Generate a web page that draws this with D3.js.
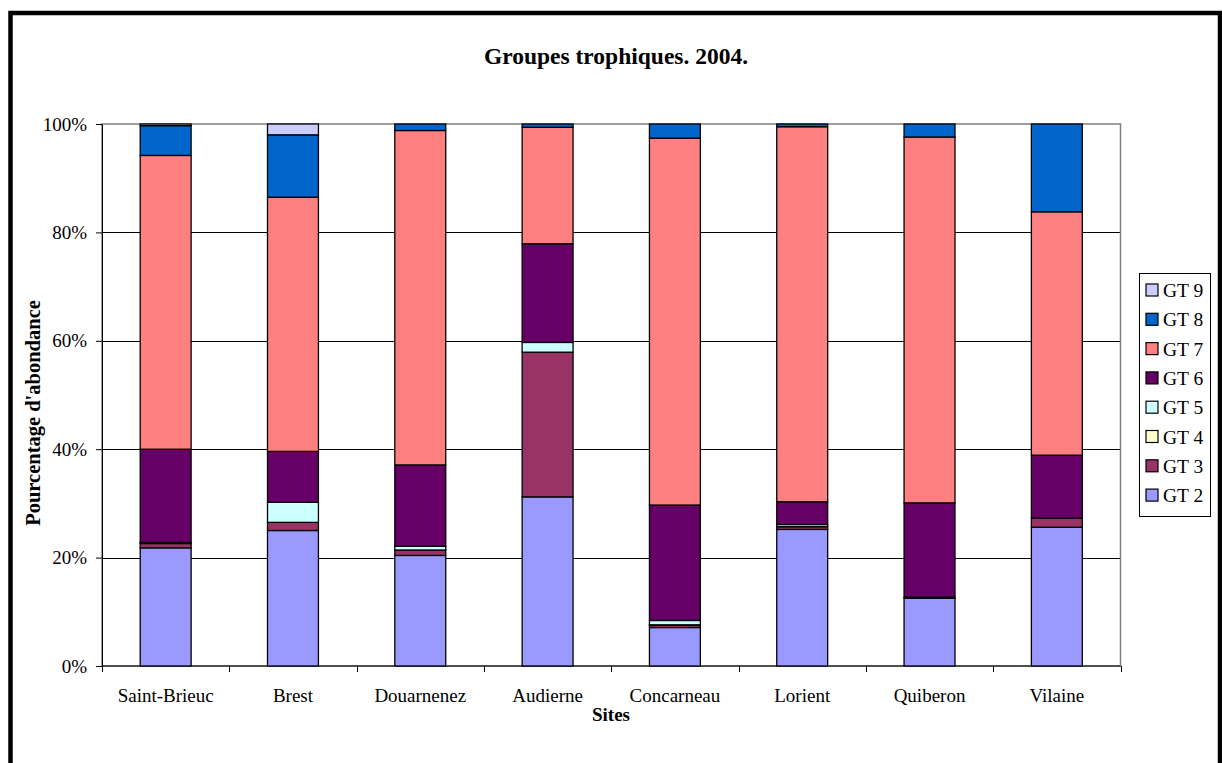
<!DOCTYPE html>
<html lang="fr">
<head>
<meta charset="UTF-8"/>
<title>Groupes trophiques. 2004.</title>
<script src="https://d3js.org/d3.v7.min.js"></script>
<style>
    body { margin: 0; background: #fff; }
    text { font-family: "Liberation Serif", "Times New Roman", serif; fill: #000; }
</style>
</head>
<body>
<script>
    // sites along the x axis
    var sites = ["Saint-Brieuc", "Brest", "Douarnenez", "Audierne", "Concarneau", "Lorient", "Quiberon", "Vilaine"];

    // percentage of abundance per trophic group
    var gt2 = [21.8, 25.0, 20.4, 31.2, 7.1, 25.2, 12.5, 25.6];
    var gt3 = [0.8, 1.5, 1.0, 26.7, 0.4, 0.5, 0.2, 1.7];
    var gt4 = [0, 0, 0, 0, 0.1, 0, 0, 0];
    var gt5 = [0.2, 3.7, 0.7, 1.8, 0.8, 0.4, 0, 0];
    var gt6 = [17.2, 9.4, 15.0, 18.2, 21.3, 4.2, 17.4, 11.6];
    var gt7 = [54.2, 46.9, 61.7, 21.5, 67.7, 69.2, 67.5, 44.9];
    var gt8 = [5.5, 11.5, 1.2, 0.6, 2.6, 0.5, 2.4, 16.2];
    var gt9 = [0.3, 2.0, 0, 0, 0, 0, 0, 0];

    var groups = ["GT 2", "GT 3", "GT 4", "GT 5", "GT 6", "GT 7", "GT 8", "GT 9"];
    var colors = ["#9999FF", "#993366", "#FFFFCC", "#CCFFFF", "#660066", "#FF8080", "#0066CC", "#CCCCFF"];
    var yTicks = [0, 0.2, 0.4, 0.6, 0.8, 1];

    var w = 1222, h = 763;
    // plot area edges (don't use "top" as a global name, it clashes with window.top)
    var pLeft = 102, pRight = 1120.5, pTop = 124, pBottom = 666;

    var series = [gt2, gt3, gt4, gt5, gt6, gt7, gt8, gt9];
    var rows = sites.map(function(s, i) {
        var r = { site: s };
        groups.forEach(function(g, j) { r[g] = series[j][i]; });
        return r;
    });

    var stacked = d3.stack()
        .keys(groups)
        .offset(d3.stackOffsetExpand)(rows);

    var xScale = d3.scaleBand().domain(sites).range([pLeft, pRight]).padding(0);
    var yScale = d3.scaleLinear().domain([0, 1]).range([pBottom, pTop]);
    var color = d3.scaleOrdinal().domain(groups).range(colors);

    var svg = d3.select("body").append("svg")
        .attr("width", w)
        .attr("height", h);

    // outer frame
    svg.append("rect")
        .attr("x", 10.5).attr("y", 13)
        .attr("width", 1209.5).attr("height", 800)
        .attr("fill", "none")
        .attr("stroke", "#000")
        .attr("stroke-width", 4.5);

    // title
    svg.append("text")
        .attr("x", 616).attr("y", 64)
        .attr("text-anchor", "middle")
        .style("font-size", "23.5px")
        .style("font-weight", "bold")
        .text("Groupes trophiques. 2004.");

    // gridlines
    svg.selectAll(".grid")
        .data([0.2, 0.4, 0.6, 0.8])
        .enter().append("line")
        .attr("x1", pLeft).attr("x2", pRight)
        .attr("y1", function(d) { return Math.round(yScale(d)) + 0.5; })
        .attr("y2", function(d) { return Math.round(yScale(d)) + 0.5; })
        .attr("stroke", "#000")
        .attr("stroke-width", 1);

    // plot area frame (grey top/right)
    svg.append("rect")
        .attr("x", pLeft).attr("y", pTop)
        .attr("width", pRight - pLeft).attr("height", pBottom - pTop)
        .attr("fill", "none")
        .attr("stroke", "#808080")
        .attr("stroke-width", 1.5);

    // y axis
    var yAxis = d3.axisLeft(yScale)
        .tickValues(yTicks)
        .tickFormat(d3.format(".0%"))
        .tickSize(6)
        .tickSizeOuter(0)
        .tickPadding(9);
    var gy = svg.append("g")
        .attr("transform", "translate(" + pLeft + ",0)")
        .call(yAxis);
    gy.selectAll("text")
        .style("font-size", "19px")
        .style("font-family", "Liberation Serif")
        .attr("fill", "#000");
    gy.selectAll("line, path").attr("stroke", "#000");

    // x axis with ticks at category boundaries
    var gx = svg.append("g")
        .attr("transform", "translate(0," + pBottom + ")");
    gx.append("line")
        .attr("x1", pLeft).attr("x2", pRight)
        .attr("stroke", "#000");
    gx.selectAll(".tk")
        .data(d3.range(sites.length + 1))
        .enter().append("line")
        .attr("x1", function(i) { return Math.round(pLeft + i * xScale.step()) + 0.5; })
        .attr("x2", function(i) { return Math.round(pLeft + i * xScale.step()) + 0.5; })
        .attr("y1", 0).attr("y2", 6)
        .attr("stroke", "#000");
    gx.selectAll(".lbl")
        .data(sites)
        .enter().append("text")
        .attr("x", function(d) { return xScale(d) + xScale.bandwidth() / 2; })
        .attr("y", 36)
        .attr("text-anchor", "middle")
        .style("font-size", "19px")
        .text(function(d) { return d; });

    // stacked bars
    var barW = xScale.bandwidth() * 0.4;
    svg.selectAll(".layer")
        .data(stacked)
        .enter().append("g")
        .attr("fill", function(d) { return color(d.key); })
        .selectAll("rect")
        .data(function(d) { return d.filter(function(p) { return p[1] - p[0] > 0; }); })
        .enter().append("rect")
        .attr("x", function(d) { return xScale(d.data.site) + (xScale.bandwidth() - barW) / 2; })
        .attr("y", function(d) { return yScale(d[1]); })
        .attr("width", barW)
        .attr("height", function(d) { return yScale(d[0]) - yScale(d[1]); })
        .attr("stroke", "#000")
        .attr("stroke-width", 1.3);

    // axis titles
    svg.append("text")
        .attr("x", 611).attr("y", 721)
        .attr("text-anchor", "middle")
        .style("font-size", "19px")
        .style("font-weight", "bold")
        .text("Sites");

    svg.append("text")
        .attr("transform", "translate(40,413) rotate(-90)")
        .attr("text-anchor", "middle")
        .style("font-size", "20.5px")
        .style("font-weight", "bold")
        .text("Pourcentage d'abondance");

    // legend (top item is GT 9)
    var legend = svg.append("g");
    legend.append("rect")
        .attr("x", 1139.5).attr("y", 273.5)
        .attr("width", 71).attr("height", 243)
        .attr("fill", "#fff")
        .attr("stroke", "#000");
    var items = legend.selectAll(".item")
        .data(groups.slice().reverse())
        .enter().append("g")
        .attr("transform", function(d, i) { return "translate(1146," + (290 + i * 29.3) + ")"; });
    items.append("rect")
        .attr("x", 0).attr("y", -6)
        .attr("width", 12).attr("height", 12)
        .attr("fill", function(d) { return color(d); })
        .attr("stroke", "#000")
        .attr("stroke-width", 1.2);
    items.append("text")
        .attr("x", 17).attr("y", 7)
        .style("font-family", "'Liberation Serif', serif")
        .style("font-size", "19.5px")
        .text(function(d) { return d; });
</script>
</body>
</html>
